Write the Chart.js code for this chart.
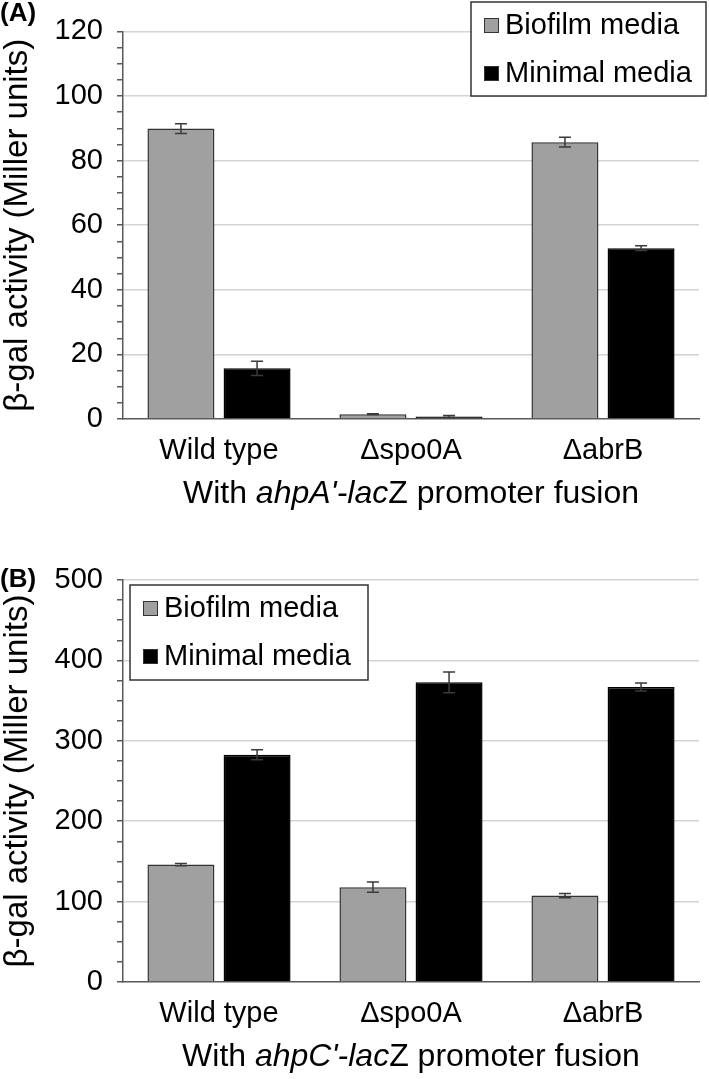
<!DOCTYPE html>
<html><head><meta charset="utf-8">
<script src="https://cdn.jsdelivr.net/npm/chart.js@4.4.1/dist/chart.umd.min.js"></script>
<style>
html,body{margin:0;padding:0;background:#fff;}
#ca{position:absolute;left:0;top:0;}
#cb{position:absolute;left:0;top:540px;}
</style></head><body>
<canvas id="ca" width="709" height="540"></canvas>
<canvas id="cb" width="709" height="539"></canvas>
<script>
// ---------- data ----------
const categories = ['Wild type', 'Δspo0A', 'ΔabrB'];
const seriesNames = ['Biofilm media', 'Minimal media'];
const biofilmA = [89.9, 1.5, 85.7];
const biofilmErrA = [1.5, 0.1, 1.5];
const minimalA = [15.7, 0.8, 52.9];
const minimalErrA = [2.2, 0.3, 0.7];
const biofilmB = [146, 118, 107.5];
const biofilmErrB = [1.5, 6.5, 2.7];
const minimalB = [282.6, 372.7, 366.9];
const minimalErrB = [6.2, 13, 5];
const yTicksA = [0, 20, 40, 60, 80, 100, 120];
const yMinorStepA = 5;
const yTicksB = [0, 100, 200, 300, 400, 500];
const yMinorStepB = 25;
const yTitle = 'β-gal activity (Miller units)';
const xTitleA = [["With ", false], ["ahpA'-lac", true], ["Z promoter fusion", false]];
const xTitleB = [["With ", false], ["ahpC'-lac", true], ["Z promoter fusion", false]];
const panelA = '(A)';
const panelB = '(B)';

// ---------- styles ----------
const FONT = '"Liberation Sans", Arial, sans-serif';
Chart.defaults.font.family = FONT;
Chart.defaults.color = '#000';
const GRAY = '#a0a0a0';
const AXIS = '#595959';

const errorBars = {
  id: 'errorBars',
  afterDatasetsDraw(chart) {
    const ctx = chart.ctx, y = chart.scales.y;
    chart.data.datasets.forEach((ds, i) => {
      const meta = chart.getDatasetMeta(i);
      meta.data.forEach((el, j) => {
        const v = ds.data[j], e = ds.errors[j];
        const yt = y.getPixelForValue(v + e), yb = y.getPixelForValue(v - e);
        ctx.save();
        ctx.strokeStyle = '#3a3a3a'; ctx.lineWidth = 1.5;
        ctx.beginPath();
        ctx.moveTo(el.x, yt); ctx.lineTo(el.x, yb);
        ctx.moveTo(el.x - 6, yt); ctx.lineTo(el.x + 6, yt);
        ctx.moveTo(el.x - 6, yb); ctx.lineTo(el.x + 6, yb);
        ctx.stroke();
        ctx.restore();
      });
    });
  }
};

const decor = {
  id: 'decor',
  afterDraw(chart, args, o) {
    const ctx = chart.ctx, ca = chart.chartArea;
    ctx.save();
    // panel label
    ctx.fillStyle = '#000';
    ctx.font = 'bold 26px ' + FONT;
    ctx.textBaseline = 'alphabetic';
    ctx.textAlign = 'left';
    ctx.fillText(o.panel, 0, o.panelY);
    // x title with mixed italics
    let total = 0;
    o.xTitle.forEach(p => { ctx.font = (p[1] ? 'italic ' : '') + '32px ' + FONT; total += ctx.measureText(p[0]).width; });
    let x = (ca.left + ca.right) / 2 - total / 2;
    const ty = ca.bottom + o.titleOffset;
    o.xTitle.forEach(p => {
      ctx.font = (p[1] ? 'italic ' : '') + '32px ' + FONT;
      ctx.fillText(p[0], x, ty);
      x += ctx.measureText(p[0]).width;
    });
    // legend box
    const L = o.legend;
    ctx.fillStyle = '#fff';
    ctx.fillRect(L.x, L.y, L.w, L.h);
    ctx.strokeStyle = '#333'; ctx.lineWidth = 1.5;
    ctx.strokeRect(L.x, L.y, L.w, L.h);
    chart.data.datasets.forEach((ds, i) => {
      const by = L.y + 32 + i * 48;
      ctx.fillStyle = ds.backgroundColor;
      ctx.fillRect(L.x + 13, by - 16, 15, 15);
      ctx.strokeStyle = '#333'; ctx.lineWidth = 1;
      ctx.strokeRect(L.x + 13.5, by - 15.5, 14, 14);
      ctx.fillStyle = '#000';
      ctx.font = '29px ' + FONT;
      ctx.fillText(ds.label, L.x + 34, by);
    });
    ctx.restore();
  }
};

function makeChart(id, bio, bioErr, mini, miniErr, majors, minorStep, topPad, bottomH, panel, panelY, xTitle, legend) {
  const ymax = majors[majors.length - 1];
  return new Chart(document.getElementById(id), {
    type: 'bar',
    data: {
      labels: categories,
      datasets: [
        { label: seriesNames[0], data: bio, errors: bioErr, backgroundColor: GRAY, borderColor: '#333', borderWidth: 1.5,
          categoryPercentage: 0.793, barPercentage: 0.88 },
        { label: seriesNames[1], data: mini, errors: miniErr, backgroundColor: '#000', borderColor: '#000', borderWidth: 1.5,
          categoryPercentage: 0.793, barPercentage: 0.88 }
      ]
    },
    options: {
      responsive: false,
      animation: false,
      devicePixelRatio: 1,
      layout: { padding: { top: topPad, right: 10, left: 0, bottom: 0 } },
      plugins: {
        legend: { display: false },
        tooltip: { enabled: false },
        decor: { panel: panel, panelY: panelY, xTitle: xTitle, titleOffset: 84, legend: legend }
      },
      scales: {
        x: {
          grid: { display: false, drawTicks: false, tickLength: 0 },
          border: { display: true, color: AXIS, width: 1.5 },
          ticks: { font: { size: 29 }, color: '#000', padding: 15, maxRotation: 0, autoSkip: false },
          afterFit: s => { s.height = bottomH; }
        },
        y: {
          min: 0, max: ymax,
          grid: {
            color: c => (c.tick && majors.includes(c.tick.value) && c.tick.value !== 0) ? '#d4d4d4' : 'rgba(0,0,0,0)',
            lineWidth: 1.5,
            tickColor: AXIS, tickLength: 6, tickWidth: 1.5
          },
          border: { display: true, color: AXIS, width: 1.5 },
          ticks: {
            stepSize: minorStep, maxTicksLimit: 200, autoSkip: false,
            font: { size: 29 }, color: '#000', padding: 14,
            callback: v => majors.includes(v) ? String(v) : ''
          },
          title: { display: true, text: yTitle, font: { size: 33, lineHeight: 1 }, color: '#000', padding: { top: 1, bottom: 0 } },
          afterFit: s => { s.width = 123; }
        }
      }
    },
    plugins: [errorBars, decor]
  });
}

makeChart('ca', biofilmA, biofilmErrA, minimalA, minimalErrA, yTicksA, yMinorStepA, 18, 121,
  panelA, 21, xTitleA, { x: 471, y: 2, w: 235, h: 94 });
makeChart('cb', biofilmB, biofilmErrB, minimalB, minimalErrB, yTicksB, yMinorStepB, 40, 97,
  panelB, 47, xTitleB, { x: 130, y: 45, w: 238, h: 95 });
</script>
</body></html>
